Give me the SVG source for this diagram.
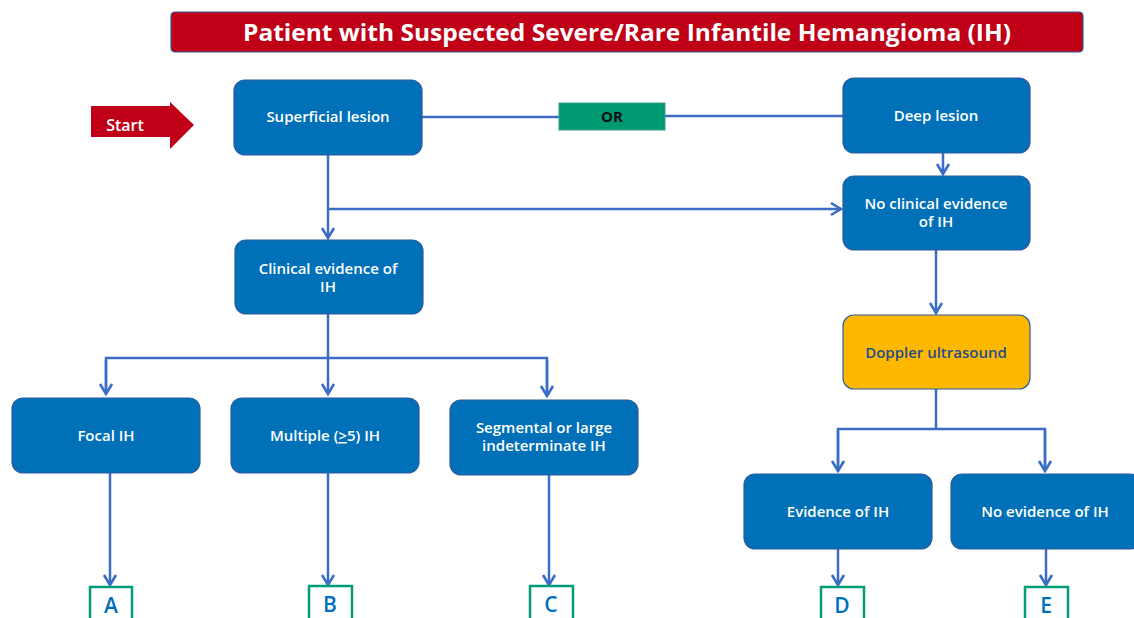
<svg xmlns="http://www.w3.org/2000/svg" width="1134" height="618" viewBox="0 0 1134 618">
<style>
.box{fill:#0070B8;stroke:#2B5C9E;stroke-width:1.2}
.t{fill:#fff;font-family:"Open Sans","Noto Sans",sans-serif;font-size:15px;font-weight:600;text-anchor:middle}
.c{fill:none;stroke:#3B6CC6;stroke-width:2.5}
.lb{fill:#fff;stroke:#009B77;stroke-width:2.5}
.lt{fill:#0070C0;font-family:"Open Sans","Noto Sans",sans-serif;font-size:21px;font-weight:600;text-anchor:middle}
</style>
<defs>
<marker id="ar" viewBox="0 0 14 16" refX="12" refY="8" markerWidth="14" markerHeight="16" markerUnits="userSpaceOnUse" orient="auto">
<path d="M2 2 L12 8 L2 14" fill="none" stroke="#3B6CC6" stroke-width="2.6"/>
</marker>
</defs>
<rect width="1134" height="618" fill="#fff"/>
<g id="title">
<rect x="171" y="12" width="912" height="40" rx="4" fill="#C00016" stroke="#2B5C9E" stroke-width="1.2"/>
<text x="627" y="41" fill="#fff" font-family="'Open Sans','Noto Sans',sans-serif" font-size="24" font-weight="700" text-anchor="middle" textLength="768" lengthAdjust="spacingAndGlyphs">Patient with Suspected Severe/Rare Infantile Hemangioma (IH)</text>
</g>
<g id="start">
<polygon points="91,106 170,106 170,102 194,125 170,149 170,137 91,137" fill="#C00016"/>
<text x="125" y="131" fill="#fff" font-family="'Open Sans','Noto Sans',sans-serif" font-size="16" font-weight="600" text-anchor="middle">Start</text>
</g>
<g id="connectors">
<line class="c" x1="422" y1="117" x2="559" y2="117"/>
<line class="c" x1="665" y1="116" x2="843" y2="116"/>
<line class="c" x1="943" y1="153" x2="943" y2="174" marker-end="url(#ar)"/>
<line class="c" x1="328" y1="155" x2="328" y2="238" marker-end="url(#ar)"/>
<line class="c" x1="328" y1="209" x2="841" y2="209" marker-end="url(#ar)"/>
<line class="c" x1="328" y1="314" x2="328" y2="394" marker-end="url(#ar)"/>
<polyline class="c" points="106,394 106,358 547,358 547,396" />
<line class="c" x1="106" y1="360" x2="106" y2="394" marker-end="url(#ar)"/>
<line class="c" x1="547" y1="360" x2="547" y2="396" marker-end="url(#ar)"/>
<line class="c" x1="110" y1="473" x2="110" y2="585" marker-end="url(#ar)"/>
<line class="c" x1="328" y1="473" x2="328" y2="585" marker-end="url(#ar)"/>
<line class="c" x1="549" y1="475" x2="549" y2="585" marker-end="url(#ar)"/>
<line class="c" x1="936" y1="250" x2="936" y2="313" marker-end="url(#ar)"/>
<line class="c" x1="936" y1="389" x2="936" y2="428"/>
<polyline class="c" points="838,470 838,429 1045,429 1045,470"/>
<line class="c" x1="838" y1="431" x2="838" y2="471" marker-end="url(#ar)"/>
<line class="c" x1="1045" y1="431" x2="1045" y2="471" marker-end="url(#ar)"/>
<line class="c" x1="838" y1="549" x2="838" y2="585" marker-end="url(#ar)"/>
<line class="c" x1="1046" y1="549" x2="1046" y2="585" marker-end="url(#ar)"/>
</g>
<g id="superficial"><rect class="box" x="234" y="80" width="188" height="75" rx="11"/><text class="t" x="328" y="122">Superficial lesion</text></g>
<g id="or"><rect x="559" y="103" width="106" height="27" fill="#009A72" stroke="#3B9E8A" stroke-width="1"/><text x="612" y="122" fill="#111" font-family="'Open Sans','Noto Sans',sans-serif" font-size="15" font-weight="700" text-anchor="middle">OR</text></g>
<g id="deep"><rect class="box" x="843" y="78" width="187" height="75" rx="11"/><text class="t" x="936" y="121">Deep lesion</text></g>
<g id="noclinical"><rect class="box" x="843" y="176" width="187" height="74" rx="11"/><text class="t" x="936" y="209">No clinical evidence</text><text class="t" x="936" y="227">of IH</text></g>
<g id="clinical"><rect class="box" x="235" y="240" width="188" height="74" rx="11"/><text class="t" x="328" y="274">Clinical evidence of</text><text class="t" x="328" y="292">IH</text></g>
<g id="focal"><rect class="box" x="12" y="398" width="188" height="75" rx="11"/><text class="t" x="106" y="441">Focal IH</text></g>
<g id="multiple"><rect class="box" x="231" y="398" width="188" height="75" rx="11"/><text class="t" x="325" y="441">Multiple (<tspan text-decoration="underline">&gt;</tspan>5) IH</text></g>
<g id="segmental"><rect class="box" x="450" y="400" width="188" height="75" rx="11"/><text class="t" x="544" y="433">Segmental or large</text><text class="t" x="544" y="451">indeterminate IH</text></g>
<g id="doppler"><rect x="843" y="315" width="187" height="74" rx="11" fill="#FFB800" stroke="#2B5C9E" stroke-width="1.2"/><text class="t" x="936" y="358" style="fill:#1F4E8C">Doppler ultrasound</text></g>
<g id="evidence"><rect class="box" x="744" y="474" width="188" height="75" rx="11"/><text class="t" x="838" y="517">Evidence of IH</text></g>
<g id="noevidence"><rect class="box" x="951" y="474" width="190" height="75" rx="11"/><text class="t" x="1045" y="517">No evidence of IH</text></g>
<g id="A"><rect class="lb" x="90" y="587" width="42" height="40"/><text class="lt" x="111" y="613">A</text></g>
<g id="B"><rect class="lb" x="309" y="586" width="43" height="40"/><text class="lt" x="330" y="612">B</text></g>
<g id="C"><rect class="lb" x="530" y="586" width="43" height="40"/><text class="lt" x="551" y="612">C</text></g>
<g id="D"><rect class="lb" x="821" y="587" width="43" height="40"/><text class="lt" x="842" y="613">D</text></g>
<g id="E"><rect class="lb" x="1025" y="587" width="43" height="40"/><text class="lt" x="1046" y="613">E</text></g>
</svg>
